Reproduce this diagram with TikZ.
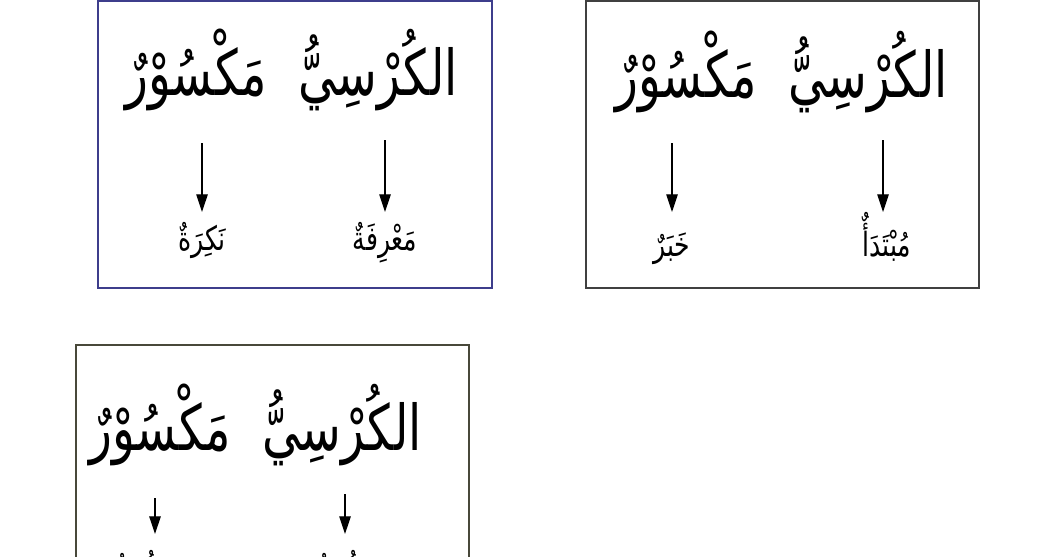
\documentclass[tikz,border=0pt]{standalone}
\usepackage{fontspec}
\usepackage{graphicx}
\usepackage{xcolor}
\usepackage{tikz}
\usetikzlibrary{arrows.meta}
\TeXXeTstate=1
\newfontfamily\arabicfont[Script=Arabic]{DejaVu Sans}
\newcommand{\artext}[1]{\scalebox{0.75}[1]{\beginR #1\endR}}

\definecolor{frameA}{RGB}{62,62,140}
\definecolor{frameB}{RGB}{64,64,64}
\definecolor{frameC}{RGB}{72,72,58}

\tikzset{
  bigword/.style={font=\arabicfont\fontsize{36}{44}\selectfont, inner sep=0pt, anchor=base},
  smallword/.style={font=\arabicfont\fontsize{19}{23}\selectfont, inner sep=0pt, anchor=base},
  arr/.style={-{Triangle[length=10pt,width=6.5pt]}, line width=0.6pt},
}

\begin{document}
\begin{tikzpicture}[x=0.02cm, y=-0.02cm]
\clip (0,0) rectangle (1058,556);
\fill[white] (0,0) rectangle (1058,556);

% first box
\draw[frameA, line width=0.9pt] (98,1) rectangle (492,288);
\node[bigword] (kursiA) at (378,95) {\artext{الكُرْسِيُّ}};
\node[bigword] (maksurA) at (196,95) {\artext{مَكْسُوْرٌ}};
\coordinate (sA1) at (385,140);
\coordinate (hA1) at (385,212);
\coordinate (sA2) at (202,143);
\coordinate (hA2) at (202,212);
\node[smallword] (marifa) at (385,250) {\artext{مَعْرِفَةٌ}};
\node[smallword] (nakira) at (202,250) {\artext{نَكِرَةٌ}};
\draw[arr] (sA1) -- (hA1);
\draw[arr] (sA2) -- (hA2);

% second box
\draw[frameB, line width=0.9pt] (586,1) rectangle (979,288);
\node[bigword] (kursiB) at (868,97) {\artext{الكُرْسِيُّ}};
\node[bigword] (maksurB) at (686,97) {\artext{مَكْسُوْرٌ}};
\coordinate (sB1) at (883,140);
\coordinate (hB1) at (883,212);
\coordinate (sB2) at (672,143);
\coordinate (hB2) at (672,212);
\node[smallword] (mubtada) at (887,256) {\artext{مُبْتَدَأٌ}};
\node[smallword] (khabar) at (672,256) {\artext{خَبَرٌ}};
\draw[arr] (sB1) -- (hB1);
\draw[arr] (sB2) -- (hB2);

% third box
\draw[frameC, line width=0.9pt] (76,345) rectangle (469,620);
\node[bigword] (kursiC) at (342,450) {\artext{الكُرْسِيُّ}};
\node[bigword] (maksurC) at (160,450) {\artext{مَكْسُوْرٌ}};
\coordinate (sC1) at (345,494);
\coordinate (hC1) at (345,534);
\coordinate (sC2) at (155,498);
\coordinate (hC2) at (155,534);
\node[smallword] (rafA) at (352,582) {\artext{مَرْفُوْعٌ}};
\node[smallword] (rafB) at (150,582) {\artext{مَرْفُوْعٌ}};
\draw[arr] (sC1) -- (hC1);
\draw[arr] (sC2) -- (hC2);
\end{tikzpicture}
\end{document}
